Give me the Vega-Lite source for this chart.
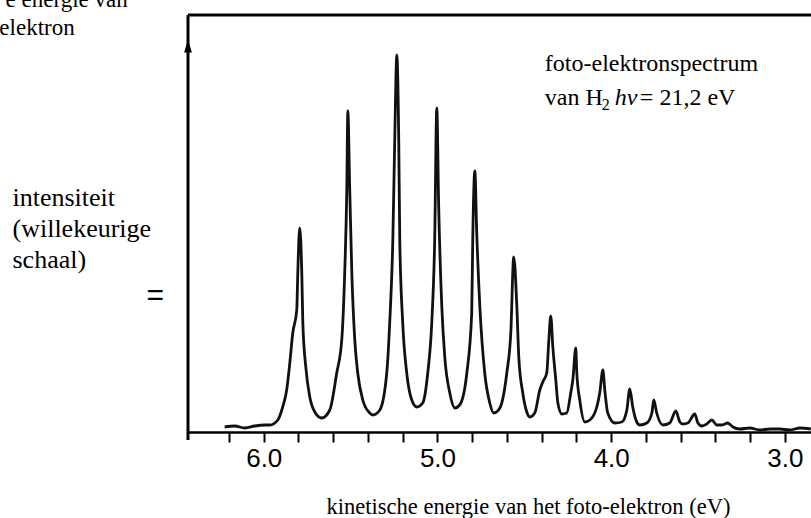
{
  "$schema": "https://vega.github.io/schema/vega-lite/v6.json",
  "autosize": {"type": "none"},
  "padding": {"left": 188, "top": 15, "right": 0, "bottom": 86},
  "width": 623,
  "height": 417,
  "background": "white",
  "config": {"view": {"stroke": null}, "axisX": {"labelOverlap": false}},
  "layer": [
    {
      "data": {"values": [
        {"ev": 6.225, "i": 5}, {"ev": 6.167, "i": 6}, {"ev": 6.109, "i": 4}, {"ev": 6.052, "i": 6},
        {"ev": 5.994, "i": 7}, {"ev": 5.965, "i": 7}, {"ev": 5.919, "i": 12}, {"ev": 5.891, "i": 25},
        {"ev": 5.868, "i": 42}, {"ev": 5.850, "i": 69}, {"ev": 5.833, "i": 99}, {"ev": 5.810, "i": 122},
        {"ev": 5.804, "i": 159}, {"ev": 5.793, "i": 204}, {"ev": 5.781, "i": 159}, {"ev": 5.775, "i": 109},
        {"ev": 5.758, "i": 65}, {"ev": 5.735, "i": 35}, {"ev": 5.706, "i": 20}, {"ev": 5.666, "i": 14},
        {"ev": 5.620, "i": 22}, {"ev": 5.580, "i": 59}, {"ev": 5.551, "i": 92}, {"ev": 5.534, "i": 159},
        {"ev": 5.522, "i": 242}, {"ev": 5.516, "i": 321}, {"ev": 5.505, "i": 242}, {"ev": 5.493, "i": 159},
        {"ev": 5.476, "i": 92}, {"ev": 5.459, "i": 59}, {"ev": 5.430, "i": 32}, {"ev": 5.390, "i": 19},
        {"ev": 5.372, "i": 17}, {"ev": 5.332, "i": 22}, {"ev": 5.292, "i": 59}, {"ev": 5.275, "i": 109},
        {"ev": 5.257, "i": 192}, {"ev": 5.246, "i": 292}, {"ev": 5.234, "i": 377}, {"ev": 5.223, "i": 292},
        {"ev": 5.217, "i": 192}, {"ev": 5.200, "i": 109}, {"ev": 5.177, "i": 59}, {"ev": 5.148, "i": 32},
        {"ev": 5.119, "i": 25}, {"ev": 5.085, "i": 29}, {"ev": 5.056, "i": 59}, {"ev": 5.033, "i": 109},
        {"ev": 5.016, "i": 192}, {"ev": 5.004, "i": 324}, {"ev": 4.993, "i": 225}, {"ev": 4.975, "i": 125},
        {"ev": 4.958, "i": 75}, {"ev": 4.929, "i": 39}, {"ev": 4.900, "i": 24}, {"ev": 4.872, "i": 27},
        {"ev": 4.831, "i": 59}, {"ev": 4.803, "i": 119}, {"ev": 4.797, "i": 192}, {"ev": 4.785, "i": 261},
        {"ev": 4.774, "i": 199}, {"ev": 4.756, "i": 125}, {"ev": 4.728, "i": 59}, {"ev": 4.699, "i": 29},
        {"ev": 4.676, "i": 19}, {"ev": 4.641, "i": 24}, {"ev": 4.601, "i": 59}, {"ev": 4.578, "i": 99},
        {"ev": 4.561, "i": 175}, {"ev": 4.543, "i": 125}, {"ev": 4.532, "i": 75}, {"ev": 4.509, "i": 39},
        {"ev": 4.486, "i": 20}, {"ev": 4.469, "i": 15}, {"ev": 4.440, "i": 19}, {"ev": 4.411, "i": 42},
        {"ev": 4.394, "i": 50}, {"ev": 4.371, "i": 59}, {"ev": 4.359, "i": 92}, {"ev": 4.348, "i": 116},
        {"ev": 4.336, "i": 85}, {"ev": 4.319, "i": 52}, {"ev": 4.307, "i": 29}, {"ev": 4.284, "i": 18},
        {"ev": 4.256, "i": 19}, {"ev": 4.233, "i": 39}, {"ev": 4.221, "i": 52}, {"ev": 4.204, "i": 84},
        {"ev": 4.198, "i": 59}, {"ev": 4.181, "i": 32}, {"ev": 4.152, "i": 10}, {"ev": 4.123, "i": 12},
        {"ev": 4.083, "i": 25}, {"ev": 4.066, "i": 39}, {"ev": 4.048, "i": 62}, {"ev": 4.037, "i": 42},
        {"ev": 4.020, "i": 19}, {"ev": 3.979, "i": 9}, {"ev": 3.939, "i": 10}, {"ev": 3.910, "i": 22},
        {"ev": 3.893, "i": 43}, {"ev": 3.876, "i": 25}, {"ev": 3.853, "i": 10}, {"ev": 3.835, "i": 7},
        {"ev": 3.795, "i": 9}, {"ev": 3.766, "i": 19}, {"ev": 3.755, "i": 32}, {"ev": 3.738, "i": 19},
        {"ev": 3.703, "i": 7}, {"ev": 3.663, "i": 9}, {"ev": 3.628, "i": 21}, {"ev": 3.605, "i": 10},
        {"ev": 3.588, "i": 8}, {"ev": 3.559, "i": 9}, {"ev": 3.519, "i": 18}, {"ev": 3.501, "i": 9},
        {"ev": 3.478, "i": 6}, {"ev": 3.450, "i": 8}, {"ev": 3.421, "i": 12}, {"ev": 3.392, "i": 7},
        {"ev": 3.363, "i": 7}, {"ev": 3.329, "i": 9}, {"ev": 3.300, "i": 5}, {"ev": 3.260, "i": 3},
        {"ev": 3.202, "i": 4}, {"ev": 3.144, "i": 2}, {"ev": 3.087, "i": 3}, {"ev": 3.029, "i": 3},
        {"ev": 2.971, "i": 2}, {"ev": 2.914, "i": 4}, {"ev": 2.851, "i": 3}
      ]},
      "mark": {"type": "line", "color": "#111111", "strokeWidth": 2.8, "strokeJoin": "round", "interpolate": "monotone"},
      "encoding": {
        "x": {
          "field": "ev", "type": "quantitative",
          "scale": {"domain": [2.85, 6.436], "reverse": true, "nice": false, "zero": false},
          "axis": {
            "values": [6.2, 6.0, 5.8, 5.6, 5.4, 5.2, 5.0, 4.8, 4.6, 4.4, 4.2, 4.0, 3.8, 3.6, 3.4, 3.2, 3.0],
            "tickCount": 40,
            "labelExpr": "abs(datum.value - round(datum.value)) < 0.01 ? format(datum.value, '.1f') : ''",
            "labelFont": "Liberation Sans", "labelFontSize": 26, "labelColor": "black",
            "labelBaseline": "alphabetic", "labelPadding": 24, "labelOverlap": false, "labelFlush": false,
            "domainColor": "black", "domainWidth": 2.5,
            "tickColor": "black", "tickWidth": 2, "tickSize": 10,
            "grid": false,
            "title": "kinetische energie van het foto-elektron (eV)",
            "titleFont": "Liberation Serif", "titleFontSize": 22.5, "titleFontWeight": "normal",
            "titleColor": "black", "titleX": 340, "titleY": 81, "titleBaseline": "alphabetic", "titleAlign": "center"
          }
        },
        "y": {
          "field": "i", "type": "quantitative",
          "scale": {"domain": [0, 417], "nice": false, "zero": true},
          "axis": {
            "domain": false, "ticks": false, "labels": false, "grid": false,
            "title": ["intensiteit", "(willekeurige", "schaal)"],
            "titleFont": "Liberation Serif", "titleFontSize": 26, "titleFontWeight": "normal",
            "titleColor": "black", "titleAngle": 0, "titleAlign": "left", "titleBaseline": "alphabetic",
            "titleX": -176, "titleY": 190, "titleLineHeight": 31
          }
        }
      }
    },
    {
      "data": {"values": [{}]},
      "mark": {"type": "rule", "color": "black", "strokeWidth": 3},
      "encoding": {"x": {"datum": 6.436}, "y": {"datum": -8}, "y2": {"datum": 417}}
    },
    {
      "data": {"values": [{}]},
      "mark": {"type": "rule", "color": "black", "strokeWidth": 3},
      "encoding": {"y": {"datum": 417}}
    },
    {
      "data": {"values": [{}]},
      "mark": {"type": "point", "shape": "M0,-1L0.6,1L-0.6,1Z", "size": 169, "filled": true, "color": "black", "opacity": 1},
      "encoding": {"x": {"datum": 6.436}, "y": {"datum": 386}}
    },
    {
      "data": {"values": [{}]},
      "mark": {"type": "text", "text": "=", "font": "Liberation Sans", "fontSize": 30, "align": "center", "baseline": "middle", "color": "black"},
      "encoding": {"x": {"datum": 6.625}, "y": {"datum": 136}}
    },
    {
      "data": {"values": [{}]},
      "mark": {"type": "text", "text": "e energie van", "font": "Liberation Serif", "fontSize": 23, "align": "right", "baseline": "alphabetic", "color": "black"},
      "encoding": {"x": {"datum": 6.783}, "y": {"datum": 425}}
    },
    {
      "data": {"values": [{}]},
      "mark": {"type": "text", "text": "elektron", "font": "Liberation Serif", "fontSize": 23, "align": "right", "baseline": "alphabetic", "color": "black"},
      "encoding": {"x": {"datum": 7.088}, "y": {"datum": 397}}
    },
    {
      "data": {"values": [{}]},
      "mark": {"type": "text", "text": "foto-elektronspectrum", "font": "Liberation Serif", "fontSize": 24, "align": "left", "baseline": "alphabetic", "color": "black"},
      "encoding": {"x": {"datum": 4.382}, "y": {"datum": 361.5}}
    },
    {
      "data": {"values": [{}]},
      "mark": {"type": "text", "text": "van H", "font": "Liberation Serif", "fontSize": 24, "align": "left", "baseline": "alphabetic", "color": "black"},
      "encoding": {"x": {"datum": 4.382}, "y": {"datum": 327.5}}
    },
    {
      "data": {"values": [{}]},
      "mark": {"type": "text", "text": "2", "font": "Liberation Serif", "fontSize": 16, "align": "left", "baseline": "alphabetic", "color": "black"},
      "encoding": {"x": {"datum": 4.054}, "y": {"datum": 322}}
    },
    {
      "data": {"values": [{}]},
      "mark": {"type": "text", "text": "hν", "font": "Liberation Serif", "fontSize": 24, "fontStyle": "italic", "align": "left", "baseline": "alphabetic", "color": "black"},
      "encoding": {"x": {"datum": 3.979}, "y": {"datum": 327.5}}
    },
    {
      "data": {"values": [{}]},
      "mark": {"type": "text", "text": "= 21,2 eV", "font": "Liberation Serif", "fontSize": 24, "align": "left", "baseline": "alphabetic", "color": "black"},
      "encoding": {"x": {"datum": 3.835}, "y": {"datum": 327.5}}
    }
  ]
}
